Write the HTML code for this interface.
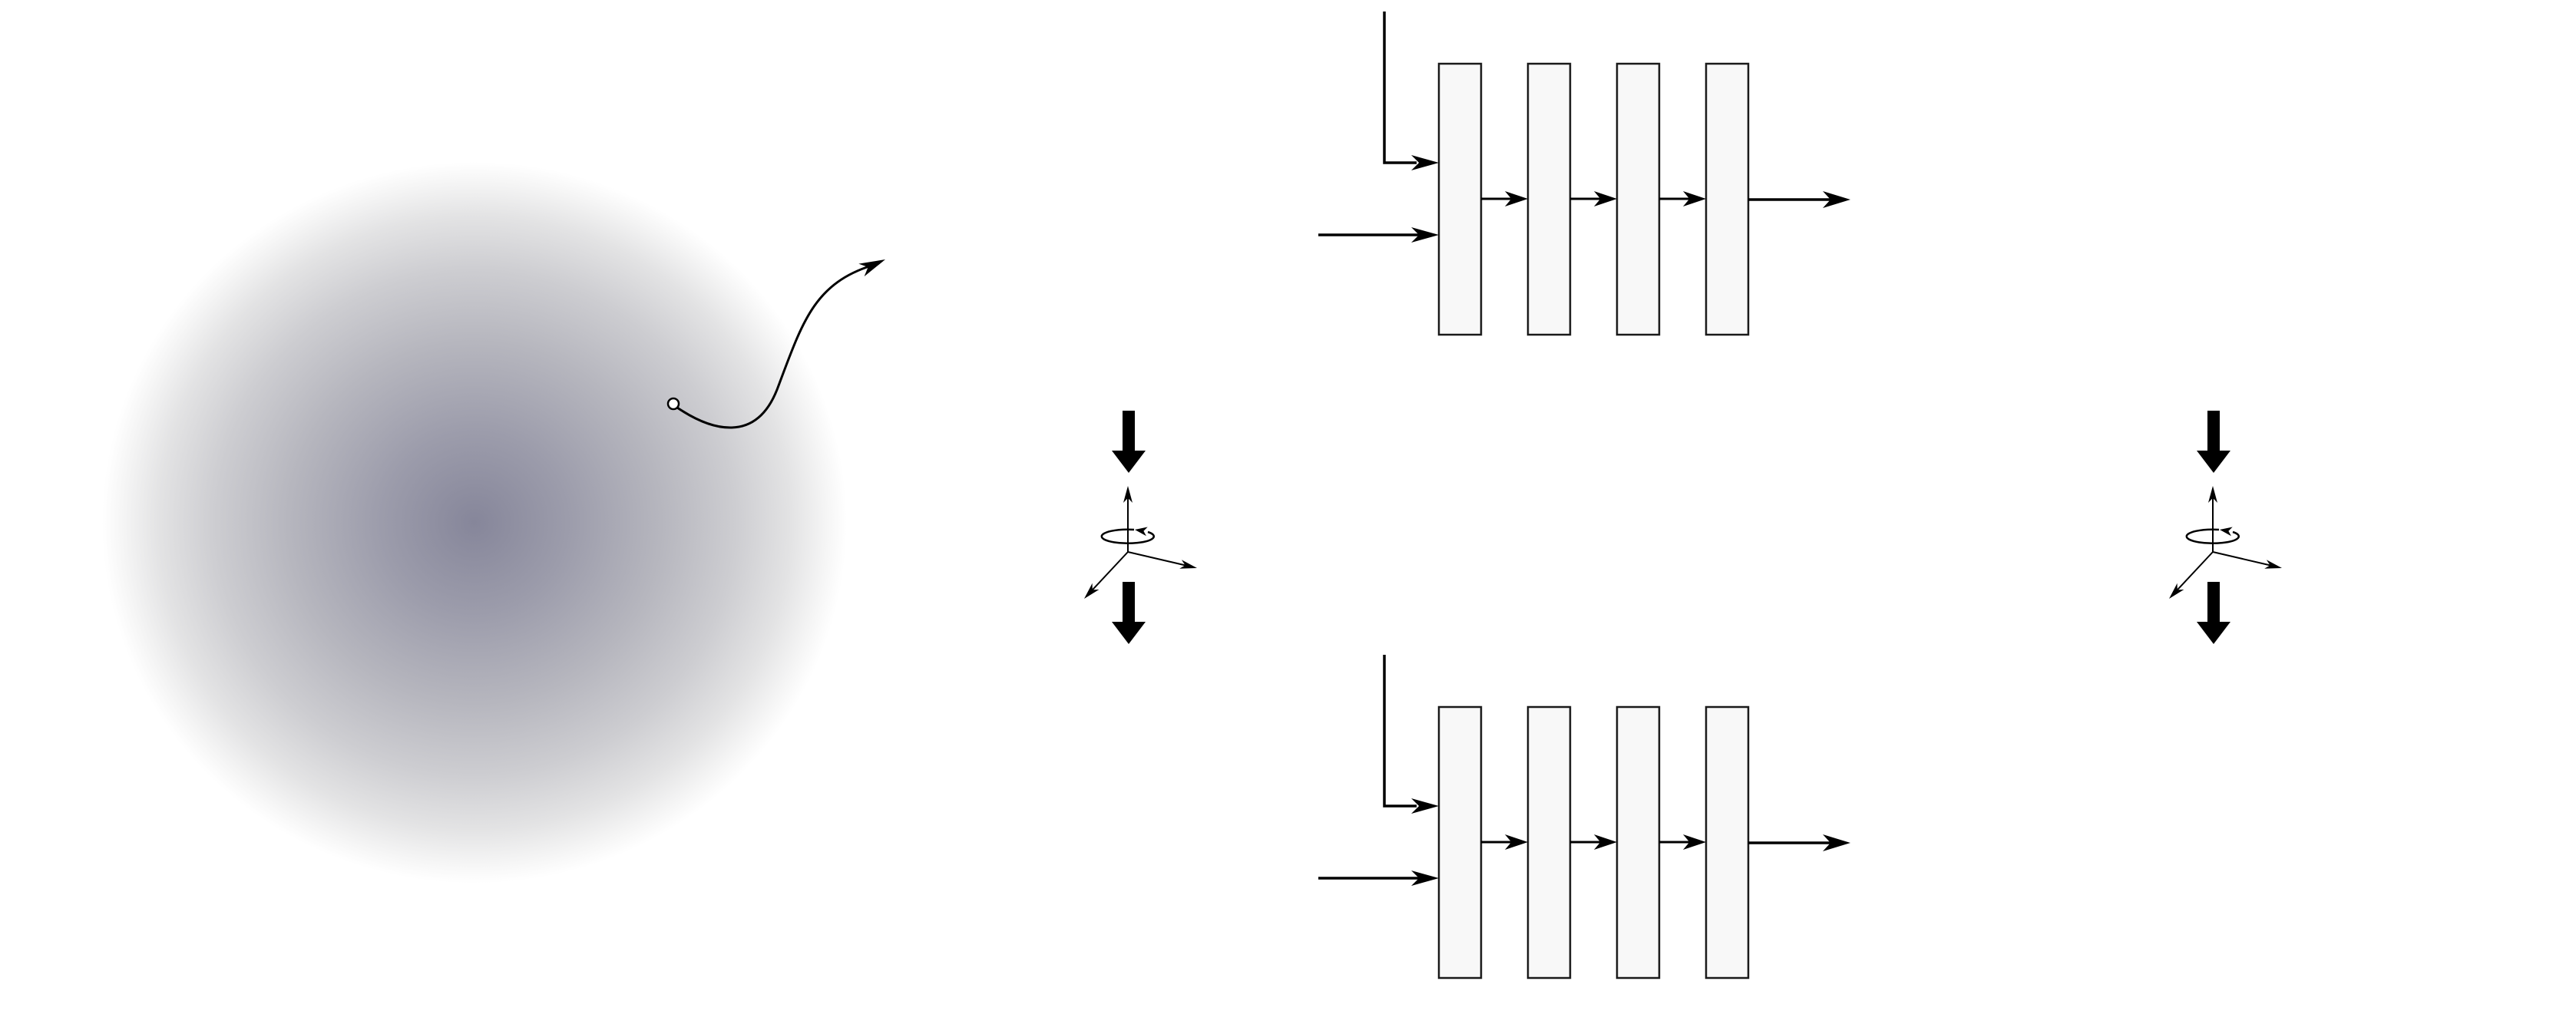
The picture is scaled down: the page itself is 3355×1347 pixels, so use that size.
<!DOCTYPE html>
<html><head><meta charset="utf-8"><style>html,body{margin:0;padding:0;background:#fff}svg{display:block}</style></head>
<body>
<svg id="fig" width="3355" height="1347" viewBox="0 0 3355 1347" xmlns="http://www.w3.org/2000/svg">
<defs>
<radialGradient id="blob" cx="0.5" cy="0.5" r="0.5">
<stop offset="0" stop-color="#86869a"/>
<stop offset="0.25" stop-color="#9c9cab"/>
<stop offset="0.5" stop-color="#b6b6be"/>
<stop offset="0.7" stop-color="#cdcdd1"/>
<stop offset="0.85" stop-color="#e3e3e4"/>
<stop offset="0.95" stop-color="#f6f6f6"/>
<stop offset="1" stop-color="#ffffff"/>
</radialGradient>
</defs>
<ellipse cx="618" cy="681" rx="485" ry="470" fill="url(#blob)"/>
<g id="g" stroke="#000" fill="none"></g>
</svg>
<script>
const blockXs = [1874, 1990, 2106, 2222];
const blockOffsets = [0, 838];
const ns = "http://www.w3.org/2000/svg";
const g = document.getElementById('g');
function el(tag, attrs, name){
  const e = document.createElementNS(ns, tag);
  for (const k in attrs) e.setAttribute(k, attrs[k]);
  
  
  g.appendChild(e); return e;
}
function head(x,y,ang,len,hw,name){
  const c=Math.cos(ang), s=Math.sin(ang);
  const p=(dx,dy)=>(x+dx*c-dy*s).toFixed(1)+','+(y+dx*s+dy*c).toFixed(1);
  el('polygon',{points:[p(0,0),p(-len,-hw),p(-len*0.72,0),p(-len,hw)].join(' '),fill:'#000',stroke:'none'},name);
}
function arrowLine(x1,y1,x2,y2,w,len,hw,name){
  const a=Math.atan2(y2-y1,x2-x1);
  el('line',{x1:x1,y1:y1,x2:x2-Math.cos(a)*len*0.6,y2:y2-Math.sin(a)*len*0.6,'stroke-width':w},name+'-line');
  head(x2,y2,a,len,hw,name+'-head');
}
blockOffsets.forEach((dy,pi)=>{
  const top=83+dy, bot=436+dy, w=55;
  blockXs.forEach((x,i)=>{
    el('rect',{x:x,y:top,width:w,height:bot-top,fill:'#f8f8f8',stroke:'#1a1a1a','stroke-width':2.5},'block-'+pi+'-'+i);
  });
  el('polyline',{points:`1803,${15+dy} 1803,${212+dy} 1845,${212+dy}`,'stroke-width':3.5},'top-input-line-'+pi);
  head(1874,212+dy,0,36,10,'top-input-head-'+pi);
  arrowLine(1717,306+dy,1874,306+dy,3.5,36,10,'side-input-'+pi);
  for(let i=0;i<3;i++) arrowLine(blockXs[i]+w,259+dy,blockXs[i+1],259+dy,3,30,10,'link-'+pi+'-'+i);
  arrowLine(blockXs[3]+w,260+dy,2410,260+dy,3.5,36,11,'output-'+pi);
});
[1470,2883].forEach((cx,k)=>{
  [[535,587,616],[758,810,839]].forEach((a,j)=>{
    el('polygon',{points:`${cx-8},${a[0]} ${cx+8},${a[0]} ${cx+8},${a[1]} ${cx+22},${a[1]} ${cx},${a[2]} ${cx-22},${a[1]} ${cx-8},${a[1]}`,fill:'#000',stroke:'none'},'force-arrow-'+k+'-'+j);
  });
  const ox=cx-1, oy=719;
  arrowLine(ox,oy,ox,633,2,22,6,'axis-up-'+k);
  arrowLine(ox,oy,ox+90,oy+21,2,22,6,'axis-right-'+k);
  arrowLine(ox,oy,ox-57,oy+61,2,22,6,'axis-left-'+k);
  el('path',{d:`M ${ox+8} ${690} A 34 9 0 1 0 ${ox+26} ${693}`,'stroke-width':2.5},'rotation-ring-'+k);
  head(ox+9,690,Math.PI+0.15,16,6,'rotation-head-'+k);
});
el('path',{d:'M 882 531 C 925 560, 985 580, 1013 505 C 1045 420, 1060 370, 1135 346','stroke-width':3},'trajectory');
head(1153,338,-0.42,34,9,'trajectory-head');
el('circle',{cx:877,cy:526,r:7,fill:'#fff','stroke-width':2.5},'trajectory-start');
</script>
</body></html>
